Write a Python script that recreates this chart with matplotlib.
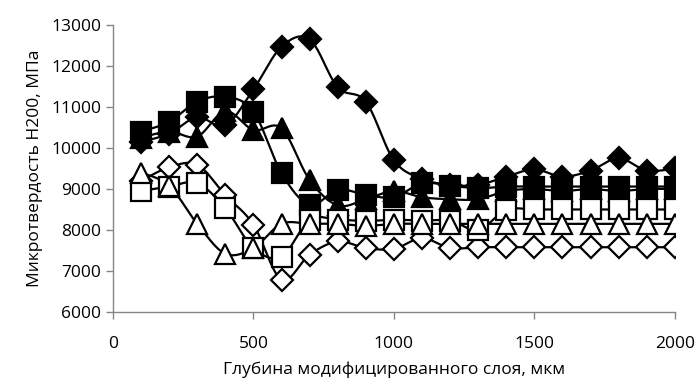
import numpy as np
import matplotlib
matplotlib.use("Agg")
import matplotlib.pyplot as plt

plt.rcParams['font.family'] = ['Open Sans', 'DejaVu Sans']

# глубина, мкм
depth = [100, 200, 300, 400, 500, 600, 700, 800, 900, 1000,
         1100, 1200, 1300, 1400, 1500, 1600, 1700, 1800, 1900, 2000]

# микротвердость, МПа
filled_diamond = [10150, 10350, 10750, 10550, 11430, 12470, 12650, 11480, 11130, 9700,
                  9250, 9100, 9100, 9300, 9480, 9300, 9450, 9750, 9450, 9500]
filled_triangle = [10250, 10400, 10280, 10900, 10440, 10480, 9220, 8600, 8750, 8950,
                   8800, 8750, 8750, 8950, 9000, 8950, 9000, 8950, 9000, 9000]
filled_square = [10400, 10640, 11130, 11250, 10890, 9385, 8615, 8980, 8860, 8800,
                 9140, 9080, 9020, 9060, 9060, 9060, 9060, 9060, 9060, 9060]
open_diamond = [9200, 9530, 9590, 8850, 8130, 6790, 7400, 7720, 7560, 7540,
                7800, 7560, 7580, 7580, 7580, 7580, 7580, 7580, 7580, 7580]
open_square = [8950, 9060, 9140, 8530, 7560, 7350, 8250, 8250, 8220, 8250,
               8230, 8230, 8000, 8490, 8500, 8500, 8500, 8500, 8500, 8500]
open_triangle = [9400, 9080, 8150, 7420, 7560, 8150, 8150, 8150, 8100, 8150,
                 8150, 8150, 8150, 8150, 8150, 8150, 8150, 8150, 8150, 8150]


def smooth(x, y, n=20):
    # сглаживание как в Excel (Catmull-Rom)
    x = np.asarray(x, float)
    y = np.asarray(y, float)
    px = np.concatenate([[x[0]], x, [x[-1]]])
    py = np.concatenate([[y[0]], y, [y[-1]]])
    xs, ys = [], []
    t = np.linspace(0, 1, n, endpoint=False)
    for i in range(1, len(px) - 2):
        for p, out in ((px, xs), (py, ys)):
            p0, p1, p2, p3 = p[i - 1], p[i], p[i + 1], p[i + 2]
            out.append(0.5 * (2 * p1 + (-p0 + p2) * t
                              + (2 * p0 - 5 * p1 + 4 * p2 - p3) * t ** 2
                              + (-p0 + 3 * p1 - 3 * p2 + p3) * t ** 3))
    xs.append([x[-1]])
    ys.append([y[-1]])
    return np.concatenate(xs), np.concatenate(ys)


fig = plt.figure(figsize=(7, 3.87), dpi=100)
ax = fig.add_axes([0.1614, 0.1938, 0.8026, 0.7416])

series = [
    (filled_diamond, 'D', 'black', 11),
    (filled_triangle, '^', 'black', 14.5),
    (filled_square, 's', 'black', 14),
    (open_diamond, 'D', 'white', 11),
    (open_square, 's', 'white', 14),
    (open_triangle, '^', 'white', 14.5),
]

for vals, mk, fc, ms in series:
    sx, sy = smooth(depth, vals)
    ax.plot(sx, sy, color='black', lw=1.6, zorder=2)
    ax.plot(depth, vals, linestyle='none', marker=mk, markersize=ms,
            markerfacecolor=fc, markeredgecolor='black', markeredgewidth=1.6, zorder=3)

ax.set_xlim(0, 2000)
ax.set_ylim(6000, 13000)
ax.set_xticks([0, 500, 1000, 1500, 2000])
ax.set_yticks(range(6000, 13001, 1000))

for s in ['top', 'right']:
    ax.spines[s].set_visible(False)
for s in ['left', 'bottom']:
    ax.spines[s].set_color('#868686')
    ax.spines[s].set_linewidth(1)
ax.tick_params(colors='#868686', length=5, width=1, labelcolor='black', labelsize=12.5)
ax.tick_params(axis='x', pad=12)

ax.set_xlabel('Глубина модифицированного слоя, мкм', fontsize=12.5, labelpad=7)
ax.set_ylabel('Микротвердость Н200, МПа', fontsize=12.5, labelpad=6)

fig.savefig('out.png', dpi=100)
